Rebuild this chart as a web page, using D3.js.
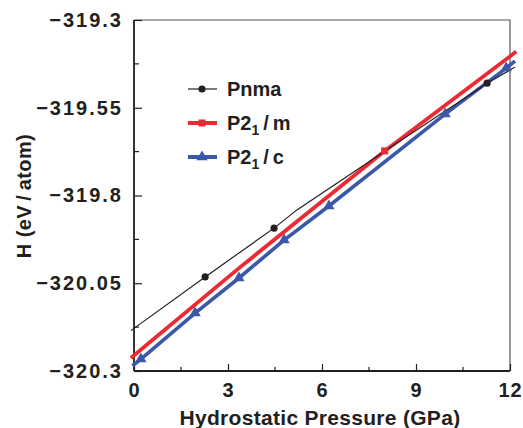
<!DOCTYPE html>
<html>
<head>
<meta charset="utf-8">
<script src="https://cdn.jsdelivr.net/npm/d3@7"></script>
<style>
  html, body { margin: 0; padding: 0; background: #fff; }
  svg { display: block; }
  text { font-family: "Liberation Sans", Arial, Helvetica, sans-serif; font-weight: bold; fill: #231f20; }
</style>
</head>
<body>
<svg id="chart" width="523" height="428"></svg>
<script>
// ---- data ----
const xTicks = [0, 3, 6, 9, 12];
const yTicks = [-320.3, -320.05, -319.8, -319.55, -319.3];
const yTickLabels = ["\u2212320.3", "\u2212320.05", "\u2212319.8", "\u2212319.55", "\u2212319.3"];

const pnmaP = [-0.1, 2.27, 4.47, 5.2, 8.0, 11.27, 12.16];
const pnmaH = [-320.185, -320.032, -319.893, -319.841, -319.674, -319.480, -319.434];
const pnmaMarkP = [2.27, 4.47, 11.27];
const pnmaMarkH = [-320.032, -319.893, -319.480];

const p21mP = [-0.1, 3.35, 8.0, 12.2];
const p21mH = [-320.263, -320.007, -319.673, -319.39];
const p21mMarkP = [8.0];
const p21mMarkH = [-319.673];

const p21cP = [-0.05, 0.22, 1.95, 3.35, 4.79, 6.22, 9.93, 11.88, 12.16];
const p21cH = [-320.285, -320.266, -320.135, -320.035, -319.927, -319.830, -319.568, -319.437, -319.417];
const p21cMarkP = [0.22, 1.95, 3.35, 4.79, 6.22, 9.93, 11.88];
const p21cMarkH = [-320.266, -320.135, -320.035, -319.927, -319.830, -319.568, -319.437];

// ---- layout ----
const svg = d3.select("#chart");
const x = d3.scaleLinear().domain([0, 12]).range([134, 510]);
const y = d3.scaleLinear().domain([-320.3, -319.3]).range([371, 20]);

const RED = "#ec2a33", BLUE = "#3a58a8", BLACK = "#231f20";

// frame (top and right)
svg.append("path")
  .attr("d", `M${x(0)},${y(-319.3)}H${x(12)}V${y(-320.3)}`)
  .attr("fill", "none").attr("stroke", "#555").attr("stroke-width", 1.2);

// minor ticks
const xMinor = d3.range(1.5, 12, 3);
const yMinor = d3.range(0, 4).map(i => -320.3 + 0.125 + i * 0.25);

const xAxis = d3.axisBottom(x).tickValues(xTicks).tickSize(-7).tickPadding(12).tickFormat(d3.format("d"));
const gx = svg.append("g").attr("transform", `translate(0,${y(-320.3)})`).call(xAxis);
gx.append("g").selectAll("line").data(xMinor).join("line")
  .attr("x1", d => x(d)).attr("x2", d => x(d)).attr("y1", 0).attr("y2", -4)
  .attr("stroke", BLACK).attr("stroke-width", 1.2);

const yAxis = d3.axisLeft(y).tickValues(yTicks).tickSize(-8).tickPadding(11)
  .tickFormat((d, i) => yTickLabels[i]);
const gy = svg.append("g").attr("transform", `translate(${x(0)},0)`).call(yAxis);
gy.append("g").selectAll("line").data(yMinor).join("line")
  .attr("x1", 0).attr("x2", 5).attr("y1", d => y(d)).attr("y2", d => y(d))
  .attr("stroke", BLACK).attr("stroke-width", 1.2);

[gx, gy].forEach(g => {
  g.select(".domain").attr("stroke", BLACK).attr("stroke-width", 1.8);
  g.selectAll(".tick line").attr("stroke", BLACK).attr("stroke-width", 1.2);
  g.selectAll(".tick text").attr("font-size", 20).attr("font-family", "Liberation Sans, Arial, sans-serif")
    .attr("font-weight", "bold").attr("fill", BLACK);
});
gx.selectAll(".tick text").style("letter-spacing", "0.8px");
gy.selectAll(".tick text").style("letter-spacing", "2px");
gx.select(".domain").attr("d", `M${x(0)},0H${x(12)}`);
gy.select(".domain").attr("d", `M0,${y(-320.3)}V${y(-319.3)}`);

// axis titles
svg.append("text").attr("x", (x(0) + x(12)) / 2 - 2).attr("y", 425)
  .attr("text-anchor", "middle").attr("font-size", 21).style("letter-spacing", "0.3px")
  .text("Hydrostatic Pressure (GPa)");
svg.append("text").attr("transform", "translate(31,196) rotate(-90)")
  .attr("text-anchor", "middle").attr("font-size", 20).style("letter-spacing", "0.4px")
  .text("H (eV\u2009/\u2009atom)");

// lines
const line = d3.line().x(d => x(d[0])).y(d => y(d[1]));
const zip = (a, b) => a.map((v, i) => [v, b[i]]);

svg.append("path").datum(zip(p21cP, p21cH)).attr("d", line)
  .attr("fill", "none").attr("stroke", BLUE).attr("stroke-width", 3.6);
svg.append("path").datum(zip(p21mP, p21mH)).attr("d", line)
  .attr("fill", "none").attr("stroke", RED).attr("stroke-width", 3.8);
svg.append("path").datum(zip(pnmaP, pnmaH)).attr("d", line)
  .attr("fill", "none").attr("stroke", BLACK).attr("stroke-width", 1.2);

// markers
const tri = d3.symbol().type(d3.symbolTriangle).size(55);
const sq = d3.symbol().type(d3.symbolSquare).size(50);
const dot = d3.symbol().type(d3.symbolCircle).size(40);

svg.append("g").selectAll("path").data(zip(p21cMarkP, p21cMarkH)).join("path")
  .attr("d", tri).attr("transform", d => `translate(${x(d[0])},${y(d[1])})`).attr("fill", BLUE);
svg.append("g").selectAll("path").data(zip(p21mMarkP, p21mMarkH)).join("path")
  .attr("d", sq).attr("transform", d => `translate(${x(d[0])},${y(d[1])})`).attr("fill", RED);
svg.append("g").selectAll("path").data(zip(pnmaMarkP, pnmaMarkH)).join("path")
  .attr("d", dot).attr("transform", d => `translate(${x(d[0])},${y(d[1])})`).attr("fill", BLACK);

// legend
const legend = [
  { name: "Pnma", sub: null, rest: "", color: BLACK, w: 1.2, sym: dot },
  { name: "P2", sub: "1", rest: "\u2009/\u2009m", color: RED, w: 4, sym: sq },
  { name: "P2", sub: "1", rest: "\u2009/\u2009c", color: BLUE, w: 4, sym: tri }
];
const lg = svg.append("g");
legend.forEach((s, i) => {
  const yy = 89 + i * 34;
  lg.append("line").attr("x1", 188).attr("x2", 217).attr("y1", yy).attr("y2", yy)
    .attr("stroke", s.color).attr("stroke-width", s.w);
  lg.append("path").attr("d", s.sym).attr("transform", `translate(202,${yy})`).attr("fill", s.color);
  const t = lg.append("text").attr("x", 227).attr("y", yy + 7).attr("font-size", 20);
  t.append("tspan").text(s.name);
  if (s.sub) {
    t.append("tspan").attr("font-size", 14).attr("dy", 5).text(s.sub);
    t.append("tspan").attr("dy", -5).text(s.rest);
  }
});
</script>
</body>
</html>
